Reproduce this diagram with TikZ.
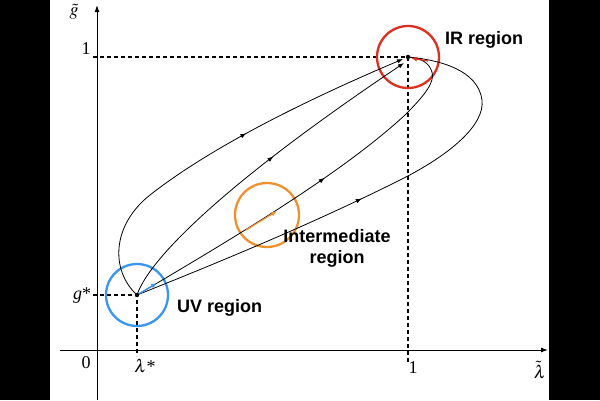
\documentclass[tikz,border=0pt]{standalone}
\usepackage{mathptmx}
\usepackage{fontspec}
\setmainfont{Liberation Serif}
\newfontfamily\helv{Liberation Sans}
\usetikzlibrary{arrows.meta,decorations.markings}
\definecolor{uvblue}{RGB}{58,150,240}
\definecolor{irred}{RGB}{220,48,32}
\definecolor{imorange}{RGB}{238,146,48}
\begin{document}
\begin{tikzpicture}[x=1pt,y=-1pt,
  traj/.style={line width=0.8pt},
  arrowat/.style={postaction={decorate},decoration={markings,mark=at position #1 with {\arrow{Latex[length=6pt,width=4.5pt]}}}},
  axis/.style={line width=1pt,-{Latex[length=7pt,width=5pt]}},
  guide/.style={line width=1.3pt,dash pattern=on 4pt off 3pt},
  region/.style={line width=2.3pt},
  reglab/.style={font=\helv\bfseries\fontsize{18}{21}\selectfont,inner sep=0pt},
  mathlab/.style={font=\fontsize{18}{21}\selectfont,inner sep=0pt},
  endtip/.style={-{Latex[length=6pt,width=4.5pt]}},
  colarrow/.style={line width=1.3pt,-{Latex[length=6pt,width=5pt]}}
]
\useasboundingbox (0,0) rectangle (600,400);
\fill[black] (0,0) rectangle (50,400);
\fill[black] (549,0) rectangle (600,400);

% key points
\coordinate (uv) at (137,295);
\coordinate (ir) at (408,57);
\coordinate (ytop) at (97,5);
\coordinate (ybot) at (97,400);
\coordinate (xleft) at (60,350);
\coordinate (xright) at (548,350);

% axes
\draw[axis] (ybot) -- (ytop);
\draw[axis] (xleft) -- (xright);

% dashed guides
\coordinate (irh) at (93,57);
\coordinate (irv) at (408,362);
\coordinate (uvh) at (93,295);
\coordinate (uvv) at (137,356);
\draw[guide] (irh) -- (ir) -- (irv);
\draw[guide] (uvh) -- (uv) -- (uvv);

% region circles
\node[draw=uvblue,region,circle,minimum size=62pt,inner sep=0pt] (uvc) at (uv) {};
\node[draw=irred,region,circle,minimum size=62pt,inner sep=0pt] (irc) at (ir) {};
\node[draw=imorange,region,circle,minimum size=64pt,inner sep=0pt] (imc) at (267,215) {};

% trajectories
\coordinate (aend) at (403,59);
\coordinate (bend) at (404,63);
\draw[traj,endtip,arrowat=0.57] (uv) .. controls (110,270) and (112,225) .. (150,195)
   .. controls (220,140) and (330,90) .. (aend);
\draw[traj,endtip,arrowat=0.55] (uv) .. controls (148,262) and (215,190) .. (bend);
\draw[traj,arrowat=0.545] (uv) .. controls (230,240) and (340,175) .. (405,115)
   .. controls (425,95) and (435,82) .. (432,72)
   .. controls (429,62) and (420,58) .. (ir);
\draw[traj,arrowat=0.49] (uv) .. controls (250,250) and (330,215) .. (400,180)
   .. controls (450,155) and (485,125) .. (482,100)
   .. controls (478,70) and (440,60) .. (ir);

% coloured direction arrows
\coordinate (ublue) at (157,283);
\coordinate (oa) at (246,230);
\coordinate (ob) at (277,211);
\coordinate (ra) at (428,61);
\coordinate (rb) at (411,58);
\draw[uvblue,colarrow] (uv) -- (ublue);
\draw[imorange,colarrow] (oa) -- (ob);
\draw[irred,colarrow] (ra) -- (rb);

% fixed points
\fill (uv) circle (2.2pt);
\fill (ir) circle (2.2pt);

% labels
\node[reglab,anchor=base west] (irlab) at (445,44) {IR region};
\node[reglab,anchor=base west] (uvlab) at (177,312) {UV region};
\node[reglab,anchor=base,align=center] (imlab) at (337,263) {Intermediate\\region};

\node[mathlab] (glab) at (74,12) {$\tilde{g}$};
\node[mathlab] (lamlab) at (540,370) {$\tilde{\lambda}$};
\node[mathlab] (onev) at (86,49) {1};
\node[mathlab] (oneh) at (413,368) {1};
\node[mathlab] (zero) at (86,363) {0};
\node[mathlab] (gstar) at (82,296) {\textit{g}*};
\node[mathlab] (lstar) at (145,366) {$\lambda$*};
\end{tikzpicture}
\end{document}
